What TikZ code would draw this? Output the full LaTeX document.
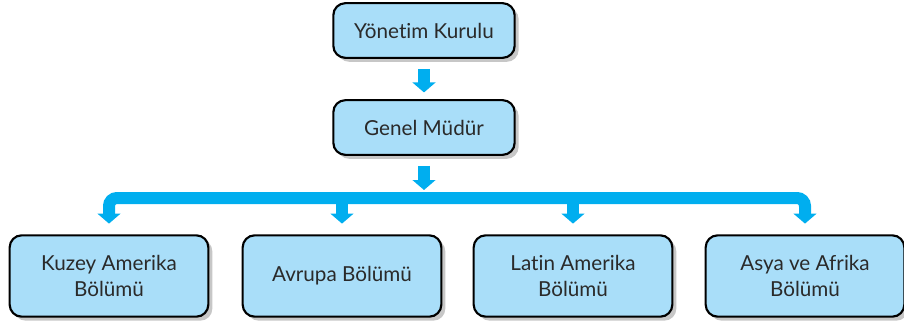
\documentclass[tikz,border=0pt]{standalone}
\usepackage{fontspec}
\setmainfont{Lato}[Ligatures={NoCommon}]
\usetikzlibrary{arrows.meta,shadows}
\definecolor{boxblue}{HTML}{A9DEF9}
\definecolor{flowblue}{HTML}{00AEEF}
\definecolor{textgray}{HTML}{2A2A2A}

\begin{document}
\begin{tikzpicture}[
  x=0.75pt, y=-0.75pt,
  unit/.style={draw=black, line width=1.6pt, rounded corners=9pt, fill=boxblue,
    text=textgray, font=\fontsize{15.5}{19}\selectfont, align=center,
    drop shadow={shadow xshift=3pt, shadow yshift=-3pt, fill=black!22, opacity=1}},
  topunit/.style={unit, minimum width=136pt, minimum height=41pt},
  dept/.style={unit, minimum width=149pt, minimum height=61pt},
  flow/.style={draw=flowblue, line width=9pt, -{Triangle[length=7.5pt,width=17pt]}}
]
  \useasboundingbox (0,0) rectangle (904,322);

  \node[topunit] (kurul) at (424,30.5) {Yönetim Kurulu};
  \node[topunit] (mudur) at (424,127.5) {Genel Müdür};

  \foreach \x/\i/\txt in {109/1/{Kuzey Amerika\\Bölümü}, 342/2/{Avrupa Bölümü},
                          573/3/{Latin Amerika\\Bölümü}, 805/4/{Asya ve Afrika\\Bölümü}}
    \node[dept] (bolum-\i) at (\x,276) {\txt};

  \coordinate (bus) at (424,198);

  \draw[flow, shorten <=7.5pt, shorten >=5pt] (kurul) -- (mudur);
  \draw[flow, shorten <=7.5pt, shorten >=6pt] (mudur) -- (bus);
  \draw[flow, {Triangle[length=7.5pt,width=17pt]}-{Triangle[length=7.5pt,width=17pt]},
    rounded corners=6pt, shorten <=8pt, shorten >=8pt]
    (bolum-1.north) |- (bus) -| (bolum-4.north);
  \foreach \i in {2,3}
    \draw[flow, shorten >=8pt] (bolum-\i.north |- bus) -- (bolum-\i.north);
\end{tikzpicture}
\end{document}
